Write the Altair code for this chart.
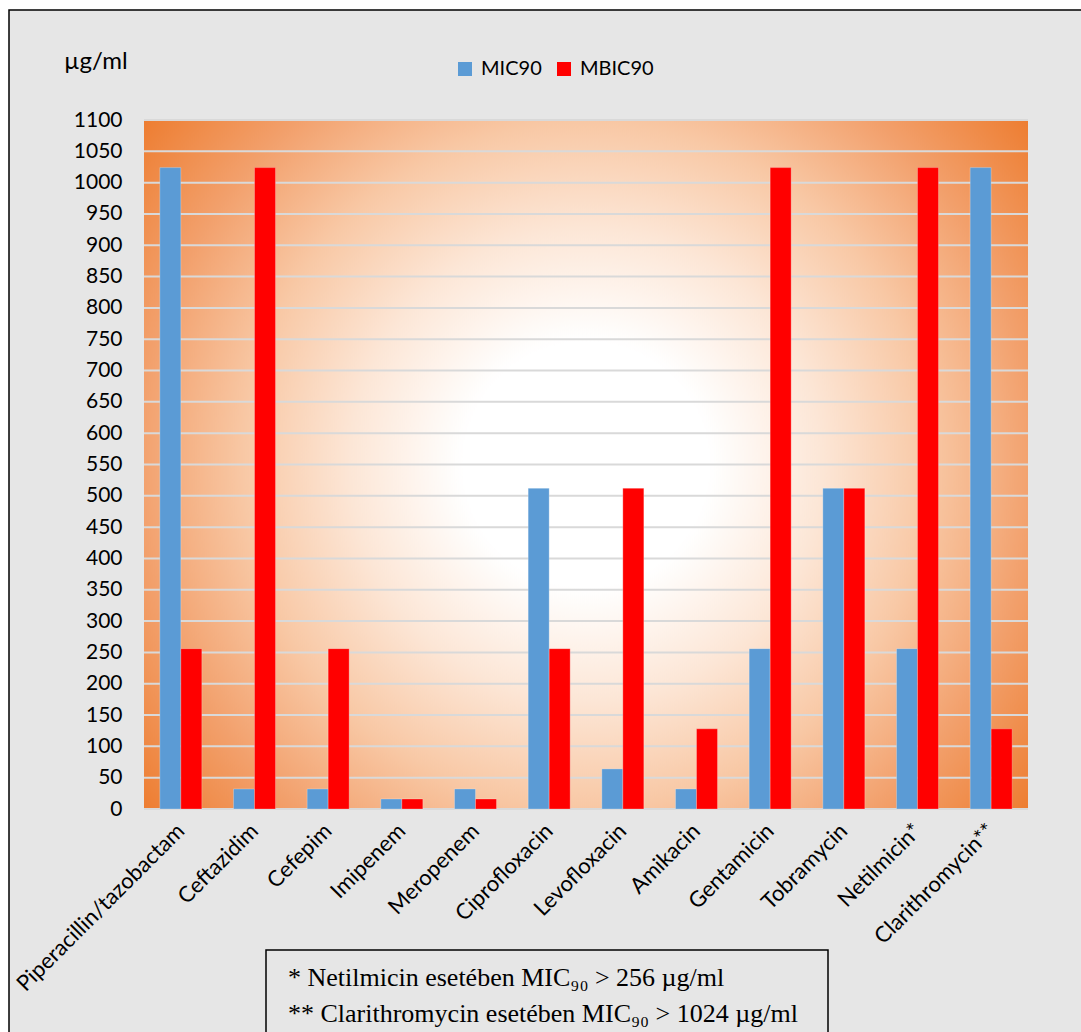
import altair as alt
import pandas as pd

# Antibiotics on the x axis (order as shown)
drugs = [
    "Piperacillin/tazobactam", "Ceftazidim", "Cefepim", "Imipenem",
    "Meropenem", "Ciprofloxacin", "Levofloxacin", "Amikacin",
    "Gentamicin", "Tobramycin", "Netilmicin*", "Clarithromycin**",
]
mic90 = [1024, 32, 32, 16, 32, 512, 64, 32, 256, 512, 256, 1024]
mbic90 = [256, 1024, 256, 16, 16, 256, 512, 128, 1024, 512, 1024, 128]
series = ["MIC90", "MBIC90"]
series_colors = ["#5b9bd5", "#ff0000"]
y_ticks = list(range(0, 1101, 50))

footnote_1 = "* Netilmicin esetében MIC₉₀  > 256 µg/ml"
footnote_2 = "** Clarithromycin esetében MIC₉₀ > 1024 µg/ml"

W, H = 884, 689
LEFT, TOP = 144, 120
FONT = "Lato"

bars_df = pd.DataFrame(
    [{"drug": d, "series": "MIC90", "value": v} for d, v in zip(drugs, mic90)]
    + [{"drug": d, "series": "MBIC90", "value": v} for d, v in zip(drugs, mbic90)]
)
one = pd.DataFrame({"k": [0]})
grid_df = pd.DataFrame({"value": y_ticks})

y_scale = alt.Scale(domain=[0, 1100], nice=False, zero=True)
y_axis = alt.Axis(
    values=y_ticks, format="d", grid=False, ticks=False, domain=False,
    labelFont=FONT, labelFontSize=21, labelColor="#000000",
    labelPadding=22, zindex=2,
)

# grey page with black frame
frame = alt.Chart(one).mark_rect(
    fill="#e6e6e6", stroke="#000000", strokeWidth=1.5
).encode(
    x=alt.value(9 - LEFT), x2=alt.value(1100 - LEFT),
    y=alt.value(10 - TOP), y2=alt.value(1100 - TOP),
)

# footnote box
note_box = alt.Chart(one).mark_rect(
    fill="#e6e6e6", stroke="#000000", strokeWidth=1.5
).encode(
    x=alt.value(266 - LEFT), x2=alt.value(828 - LEFT),
    y=alt.value(950 - TOP), y2=alt.value(1100 - TOP),
)

# radial white-to-orange plot background (square, clipped to the plot area)
half = 560
cx, cy = W / 2, H / 2
plot_bg = alt.Chart(one).mark_rect(
    clip=True,
    fill=alt.Gradient(
        gradient="radial",
        stops=[
            alt.GradientStop(color="#ffffff", offset=0),
            alt.GradientStop(color="#ffffff", offset=0.22),
            alt.GradientStop(color="#fce6d6", offset=0.42),
            alt.GradientStop(color="#f8c8a5", offset=0.61),
            alt.GradientStop(color="#f2a06c", offset=0.8),
            alt.GradientStop(color="#ed7d31", offset=1),
        ],
        x1=0.5, y1=0.5, r1=0, x2=0.5, y2=0.5, r2=0.5,
    ),
).encode(
    x=alt.value(cx - half), x2=alt.value(cx + half),
    y=alt.value(cy - half), y2=alt.value(cy + half),
)

grid = alt.Chart(grid_df).mark_rule(color="#d9d9d9", strokeWidth=2).encode(
    y=alt.Y("value:Q", scale=y_scale, title=None, axis=y_axis),
    x=alt.value(0), x2=alt.value(W),
)

bars = alt.Chart(bars_df).mark_bar(stroke="#ffffff", strokeOpacity=0.25, strokeWidth=1).encode(
    x=alt.X(
        "drug:N", sort=drugs, title=None,
        scale=alt.Scale(paddingInner=0.43, paddingOuter=0.215),
        axis=alt.Axis(
            labelAngle=-45, labelAlign="right", labelBaseline="middle",
            labelFont=FONT, labelFontSize=22, labelColor="#000000",
            labelPadding=18, ticks=False, domain=False, grid=False,
            labelOverlap=False, labelLimit=400, zindex=2,
        ),
    ),
    xOffset=alt.XOffset("series:N", sort=series, scale=alt.Scale(paddingInner=0)),
    y=alt.Y("value:Q", scale=y_scale, title=None, axis=y_axis),
    color=alt.Color(
        "series:N", sort=series,
        scale=alt.Scale(domain=series, range=series_colors),
        legend=alt.Legend(
            title=None, orient="none", direction="horizontal",
            legendX=455 - LEFT, legendY=59 - TOP,
            symbolType="square", symbolSize=196, symbolStrokeWidth=0,
            labelFont=FONT, labelFontSize=20, labelColor="#000000",
            labelOffset=6, columnPadding=12,
        ),
    ),
)

unit = alt.Chart(one).mark_text(
    text="µg/ml", font=FONT, fontSize=24, color="#000000", align="left", baseline="middle"
).encode(x=alt.value(64 - LEFT), y=alt.value(62 - TOP))

note_1 = alt.Chart(one).mark_text(
    text=footnote_1, font="Liberation Serif", fontSize=26, color="#000000",
    align="left", baseline="middle",
).encode(x=alt.value(288 - LEFT), y=alt.value(978 - TOP))

note_2 = alt.Chart(one).mark_text(
    text=footnote_2, font="Liberation Serif", fontSize=26, color="#000000",
    align="left", baseline="middle",
).encode(x=alt.value(288 - LEFT), y=alt.value(1014 - TOP))

chart = alt.layer(frame, note_box, plot_bg, grid, bars, unit, note_1, note_2).properties(
    width=W, height=H,
    autosize=alt.AutoSizeParams(type="none"),
    padding={"left": LEFT, "top": TOP, "right": 1081 - LEFT - W, "bottom": 1032 - TOP - H},
    background="#ffffff",
).configure_view(stroke=None)

chart.save("out.html", embed_options={"renderer": "svg", "actions": False})
